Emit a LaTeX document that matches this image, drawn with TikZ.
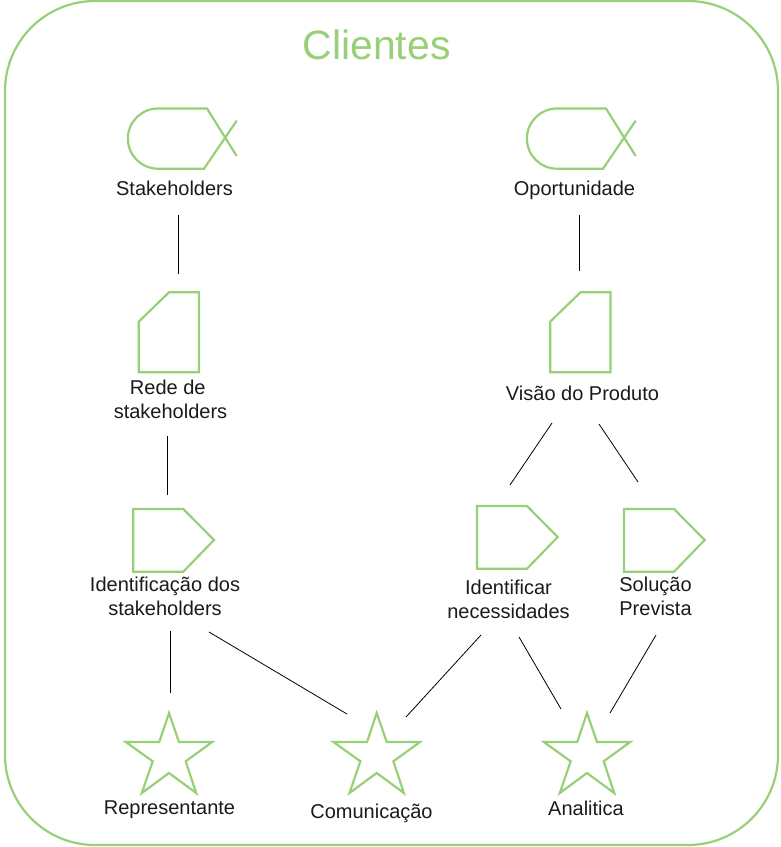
\documentclass[tikz,border=0pt]{standalone}
\usepackage{fontspec}
\setmainfont{Liberation Sans}
\definecolor{grn}{HTML}{97D077}
\definecolor{txt}{HTML}{1A1A1A}
\tikzset{
  x=1pt,y=-1pt,
  shp/.style={draw=grn,line width=2.2pt,line join=miter},
  lbl/.style={font=\fontsize{20}{24}\selectfont,text=txt,align=center,inner sep=0pt},
  conn/.style={draw=black,line width=0.8pt},
  pics/fishshape/.style={code={
    \draw[shp] (30,0.5) -- (79,0.5) -- (108.7,48);
    \draw[shp] (108.7,12.7) -- (76,60.7) -- (30,60.7) arc[start angle=90,end angle=270,radius=30.1] ;
  }},
  pics/docshape/.style={code={
    \draw[shp] (0,29.4) -- (30.3,0) -- (60.3,0) -- (60.3,80) -- (0,80) -- cycle;
  }},
  pics/tagshape/.style={code={
    \draw[shp] (0,0) -- (50,0) -- (80.7,31) -- (50,62.7) -- (0,62.7) -- cycle;
  }},
  pics/starshape/.style={code={
    \draw[shp] (0,2) -- (10,31) -- (43.2,31) -- (16.7,50.3) -- (27.2,82) -- (0,62) -- (-27.2,82) -- (-16.3,50.3) -- (-43.2,31) -- (-9.7,31) -- cycle;
  }}
}
\begin{document}
\begin{tikzpicture}
\useasboundingbox (0,0) rectangle (780,847);
\node[draw=grn,line width=2.2pt,rounded corners=90pt,minimum width=773pt,minimum height=844pt,inner sep=0pt] (frame) at (391.5,423) {};
\node[font=\fontsize{41}{48}\selectfont,text=grn,inner sep=0pt] (title) at (376.5,45) {Clientes};

\pic at (128,108) {fishshape};
\pic at (527,108) {fishshape};
\pic at (138.7,292.3) {docshape};
\pic at (550.2,292.3) {docshape};
\pic at (133.3,509) {tagshape};
\pic at (477,506) {tagshape};
\pic at (624,509) {tagshape};
\pic at (169,711) {starshape};
\pic at (376.7,711) {starshape};
\pic at (587,711) {starshape};

\node[lbl] (stk) at (174.5,188) {Stakeholders};
\node[lbl] (opo) at (574.5,190) {Oportunidade};
\node[lbl] (rede) at (170.5,399) {Rede de\hspace*{5.5pt}\\stakeholders};
\node[lbl] (visao) at (582.5,393) {Visão do Produto};
\node[lbl] (ident) at (165,596.5) {Identificação dos\\stakeholders};
\node[lbl] (nece) at (508.5,599.5) {Identificar\\necessidades};
\node[lbl] (sol) at (655.5,596.5) {Solução\\Prevista};
\node[lbl] (rep) at (169.5,810) {Representante};
\node[lbl] (com) at (371.5,813) {Comunicação};
\node[lbl] (ana) at (586,808) {Analitica};

\coordinate (a1) at (178,215); \coordinate (a2) at (178,274);
\coordinate (b1) at (579,215); \coordinate (b2) at (579,271);
\coordinate (c1) at (167,436); \coordinate (c2) at (167,495);
\coordinate (d1) at (552,423); \coordinate (d2) at (510,485);
\coordinate (e1) at (599,424); \coordinate (e2) at (638,482);
\coordinate (f1) at (170,631); \coordinate (f2) at (170,693);
\coordinate (g1) at (209,632); \coordinate (g2) at (347,714);
\coordinate (h1) at (481,635); \coordinate (h2) at (406,717);
\coordinate (i1) at (519,637); \coordinate (i2) at (561,709);
\coordinate (j1) at (656,635); \coordinate (j2) at (610,713);
\draw[conn] (a1) -- (a2);
\draw[conn] (b1) -- (b2);
\draw[conn] (c1) -- (c2);
\draw[conn] (d1) -- (d2);
\draw[conn] (e1) -- (e2);
\draw[conn] (f1) -- (f2);
\draw[conn] (g1) -- (g2);
\draw[conn] (h1) -- (h2);
\draw[conn] (i1) -- (i2);
\draw[conn] (j1) -- (j2);
\end{tikzpicture}
\end{document}
